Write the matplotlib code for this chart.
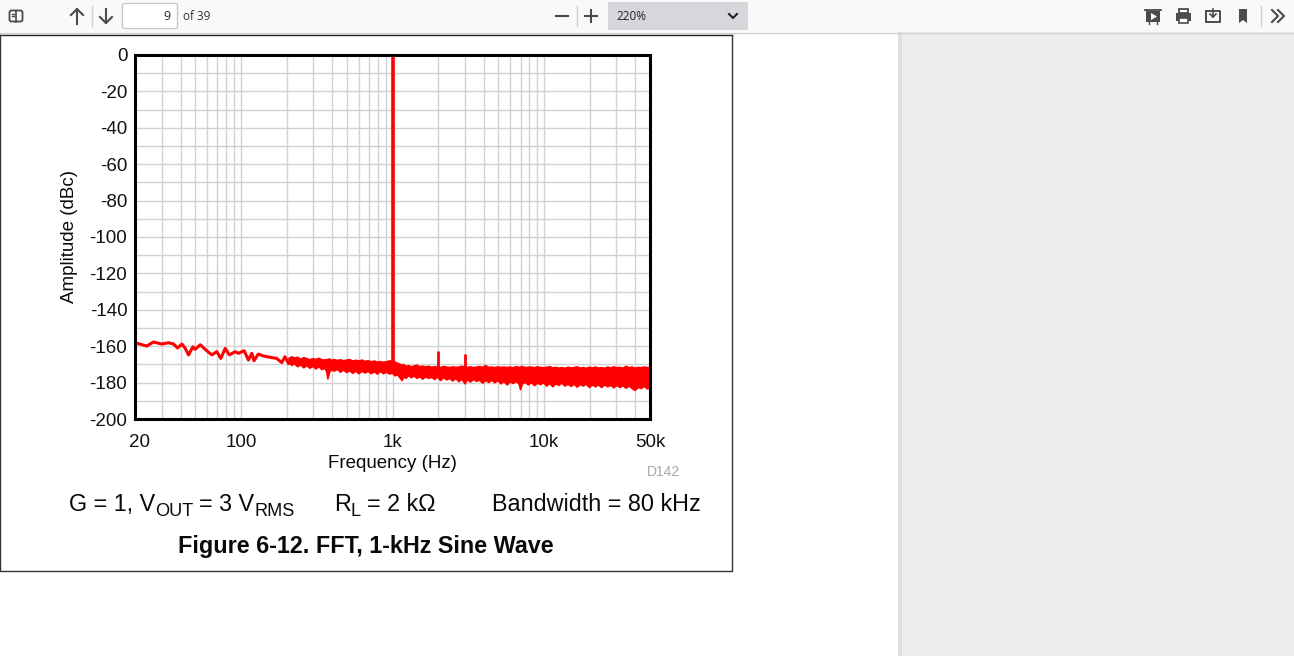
import matplotlib
matplotlib.use("Agg")
import matplotlib.pyplot as plt
from matplotlib.patches import Rectangle, FancyBboxPatch, Polygon
from matplotlib.transforms import ScaledTranslation

plt.rcParams['font.family'] = ['Liberation Sans', 'DejaVu Sans']

# Low-frequency single trace
trace_freq = [20, 20.6, 23.9, 26.5, 30, 33.3, 35.9, 38.2, 40.8, 42.9, 45.1, 48.2, 49.9, 53.9, 58, 64.3,
              69.3, 73.7, 78.7, 84, 91.6, 96.4, 105, 112, 118, 122, 130, 141, 156, 172, 186, 195, 206]
trace_db = [-158.3, -158.4, -159.9, -157.7, -158.8, -158.1, -158.8, -161, -158.8, -161.2, -164.8, -160.3,
            -161.7, -159.2, -161.7, -164.8, -163, -166.7, -161.2, -164.8, -163, -163.9, -162.5, -167.6,
            -163.9, -168, -164.3, -165.4, -166.1, -166.7, -169, -165.8, -169.4]

# Noise band: upper and lower envelope above 200 Hz
band_freq = [206, 215, 224, 235, 246, 258, 270, 283, 296, 310, 325, 340, 356, 366, 372, 380, 392, 410, 430,
             450, 472, 495, 518, 543, 569, 596, 625, 655, 686, 719, 753, 789, 827, 866, 907, 950, 985, 1000,
             1030, 1070, 1110, 1150, 1175, 1220, 1270, 1320, 1380, 1440, 1500, 1570, 1640, 1720, 1800, 1880,
             1970, 2060, 2160, 2260, 2370, 2480, 2600, 2720, 2850, 2990, 3100, 3250, 3400, 3560, 3730, 3910,
             4090, 4290, 4490, 4700, 4920, 5160, 5400, 5660, 5930, 6210, 6500, 6800, 6950, 7130, 7470, 7820,
             8190, 8580, 8990, 9410, 9860, 10330, 10820, 11330, 11870, 12430, 13020, 13640, 14290, 14970,
             15680, 16420, 17200, 18020, 18870, 19770, 20710, 21690, 22720, 23800, 24930, 26110, 27350,
             28650, 30010, 31440, 32930, 34490, 36130, 37850, 39600, 41500, 43400, 45500, 47700, 50000]
band_hi = [-166.4, -165.6, -166.2, -165.8, -167.0, -166.0, -166.6, -167.2, -166.6, -167.0, -166.4, -167.2, -167.4,
           -167.0, -167.2, -166.7, -167.5, -167.1, -167.6, -167.2, -167.8, -167.4, -167.1, -167.9, -167.5,
           -167.8, -167.4, -168.1, -167.7, -168.3, -167.9, -168.5, -168.2, -168.6, -168.3, -167.8, -168.0, -167.7,
           -168.4, -169.1, -169.6, -170.2, -169.8, -170.8, -170.4, -171.1, -170.6, -170.2, -171.0, -170.7, -171.1,
           -170.8, -171.3, -171.0, -171.1, -171.4, -170.9, -171.2, -171.5, -171.1, -171.4, -171.2, -170.8, -171.3,
           -171.4, -171.1, -171.5, -171.2, -171.0, -171.3, -170.4, -171.4, -171.2, -171.5, -171.1, -171.4, -171.2,
           -171.5, -171.2, -171.6, -171.0, -171.4, -171.2, -170.9, -171.5, -171.3, -171.2, -171.6, -171.1, -171.4,
           -171.6, -171.3, -171.0, -171.7, -171.4, -171.8, -171.5, -171.9, -171.3, -171.7, -171.5, -171.1, -171.8,
           -171.5, -171.9, -171.3, -171.7, -171.2, -171.8, -171.5, -171.9, -171.2, -171.7, -171.1, -171.6, -171.4,
           -171.8, -170.8, -171.5, -171.2, -171.8, -171.4, -171.6, -171.2, -171.5, -171.4]
band_lo = [-169.0, -170.2, -169.4, -171.0, -170.0, -171.6, -170.4, -171.8, -170.8, -172.2, -171.0, -172.6, -171.8,
           -174, -177.7, -174.4, -172.6, -173.4, -172.4, -174, -172.8, -174.2, -173.2, -174.6, -173.4,
           -174.8, -173.5, -174.4, -173.6, -174.8, -173.8, -175, -173.6, -174.8, -174, -175, -174.6, -174.8,
           -176, -175.4, -177, -178.6, -176.6, -177.4, -175.8, -177, -176.2, -177.4, -176.4, -177.8, -176.6,
           -177.4, -176.8, -178, -176.6, -178.6, -177, -178.2, -177.4, -178.8, -177.4, -179.2, -177.8, -180.4,
           -178, -179.4, -178, -179, -178.4, -180, -178.6, -179.6, -178.4, -179.8, -178.6, -180.4, -179, -181,
           -179.4, -180.2, -179, -180.6, -183.6, -180.4, -179.6, -181, -179.6, -181.4, -180, -180.8, -179.8,
           -181.6, -180.2, -182, -180.4, -181.2, -180, -181.6, -180.6, -181.8, -180.6, -182.2, -180.8, -181.6,
           -180.6, -182.4, -181, -182, -181, -182.4, -181, -182, -181.2, -182.6, -181.2, -182.4, -181.4, -182.8,
           -181.6, -183, -184, -182.4, -183, -181.8, -183.2, -182.4]

# Harmonic spikes
spike_freq = [1000, 2000, 3000]
spike_top = [0, -162.4, -164.3]
spike_base = [-174, -174, -174]

# Axis labels
y_ticks = [0, -20, -40, -60, -80, -100, -120, -140, -160, -180, -200]
y_minor = [-10, -30, -50, -70, -90, -110, -130, -150, -170, -190]
x_ticks = [20, 100, 1000, 10000, 50000]
x_labels = ['20', '100', '1k', '10k', '50k']
x_grid = [30, 40, 50, 60, 70, 80, 90, 100, 200, 300, 400, 500, 600, 700, 800, 900, 1000,
          2000, 3000, 4000, 5000, 6000, 7000, 8000, 9000, 10000, 20000, 30000, 40000]

W, H = 1294, 656
fig = plt.figure(figsize=(W / 100, H / 100), dpi=100, facecolor='white')

# Overlay in pixel coordinates for the viewer chrome
bg = fig.add_axes([0, 0, 1, 1], zorder=0)
bg.set_xlim(0, W)
bg.set_ylim(H, 0)
bg.axis('off')
bg.add_patch(Rectangle((898, 32), W - 898, H - 32, fc='#ecedef', ec='none'))
bg.add_patch(Rectangle((898, 32), 4, H - 32, fc='#dfdfe2', ec='none'))
bg.add_patch(Rectangle((0, 0), W, 32, fc='#f9f9fa', ec='none'))
bg.plot([0, W], [32.5, 32.5], color='#cfcfd2', lw=1)
bg.plot([0, 732], [34.5, 34.5], color='#222222', lw=1)
bg.plot([0.3, 0.3, 731.7, 731.7], [34.5, 571.3, 571.3, 34.5], color='#333333', lw=1)

ic = '#4a4a4f'
# sidebar icon
bg.add_patch(FancyBboxPatch((9.5, 10.5), 13, 11, boxstyle='round,pad=0,rounding_size=2', fc='none', ec=ic, lw=1.3))
bg.plot([16, 16], [10.5, 21.5], color=ic, lw=1.2)
bg.plot([11.5, 14], [13.5, 13.5], color=ic, lw=1)
bg.plot([11.5, 14], [16, 16], color=ic, lw=1)
# arrows
bg.plot([77, 77], [9, 24], color=ic, lw=1.5)
bg.plot([71, 77, 83], [15, 9, 15], color=ic, lw=1.5)
bg.plot([106, 106], [9, 23], color=ic, lw=1.5)
bg.plot([100, 106, 112], [17, 23, 17], color=ic, lw=1.5)
bg.plot([91.5, 91.5], [6, 26], color='#cfcfd2', lw=1)
bg.add_patch(FancyBboxPatch((122.5, 3.5), 55, 25, boxstyle='round,pad=0,rounding_size=2', fc='white', ec='#c8c8cb', lw=1))
bg.text(170, 16, '9', ha='right', va='center', fontsize=9, color='#222222', family=['Open Sans'])
bg.text(183, 16.5, 'of 39', ha='left', va='center', fontsize=8.5, color='#333333', family=['Open Sans'])
# zoom controls
bg.plot([556, 568], [16, 16], color=ic, lw=1.5)
bg.plot([577, 577], [6, 26], color='#cfcfd2', lw=1)
bg.plot([585, 597], [16, 16], color=ic, lw=1.5)
bg.plot([591, 591], [10, 22], color=ic, lw=1.5)
bg.add_patch(Rectangle((608, 2), 140, 28, fc='#d7d7db', ec='none'))
bg.text(616, 16, '220%', ha='left', va='center', fontsize=8.5, color='#222222', family=['Open Sans'])
bg.plot([729, 733, 737], [14, 18, 14], color='#222222', lw=1.5)
# right-hand icons
bg.add_patch(Rectangle((1146, 11), 14, 11, fc=ic, ec='none'))
bg.plot([1145, 1161], [9.5, 9.5], color=ic, lw=1.3)
bg.add_patch(Polygon([[1151, 13], [1151, 20], [1157, 16.5]], fc='white', ec='none'))
bg.plot([1149, 1149], [22, 24], color=ic, lw=1)
bg.plot([1157, 1157], [22, 24], color=ic, lw=1)
bg.add_patch(Rectangle((1176, 13), 15, 8, fc=ic, ec='none'))
bg.add_patch(Rectangle((1179, 9), 9, 4, fc='none', ec=ic, lw=1.3))
bg.add_patch(Rectangle((1179, 18), 9, 5, fc='white', ec=ic, lw=1.2))
bg.plot([1206, 1206, 1220, 1220, 1206], [11, 22, 22, 11, 11], color=ic, lw=1.4)
bg.plot([1213, 1213], [9, 17], color=ic, lw=1.2)
bg.plot([1210, 1213, 1216], [14, 17, 14], color=ic, lw=1.2)
bg.add_patch(Polygon([[1239, 9], [1247, 9], [1247, 23], [1243, 20], [1239, 23]], fc=ic, ec='none'))
bg.plot([1260.5, 1260.5], [6, 26], color='#cfcfd2', lw=1)
bg.plot([1272, 1278, 1272], [10, 16, 22], color=ic, lw=1.5)
bg.plot([1278, 1284, 1278], [10, 16, 22], color=ic, lw=1.5)

# Chart
L, R, T, B = 135, 650, 55, 419
ax = fig.add_axes([L / W, 1 - B / H, (R - L) / W, (B - T) / H], zorder=2)
ax.set_xscale('log')
ax.set_xlim(20, 50000)
ax.set_ylim(-200, 0)
for v in y_ticks + y_minor:
    ax.axhline(v, color='#d2d2d2', lw=1.0, zorder=1)
for v in x_grid:
    ax.axvline(v, color='#d2d2d2', lw=1.0, zorder=1)
red = '#ff0000'
ax.plot(trace_freq, trace_db, color=red, lw=2.2, zorder=3, solid_joinstyle='round')
ax.fill_between(band_freq, band_lo, band_hi, color=red, lw=1.2, zorder=3)
ax.vlines(spike_freq[0], spike_base[0], spike_top[0], color=red, lw=2.6, zorder=4)
ax.vlines(spike_freq[1:], spike_base[1:], spike_top[1:], color=red, lw=2.0, zorder=4)

ax.minorticks_off()
ax.set_xticks(x_ticks)
ax.set_xticklabels(x_labels, fontsize=13.5, color='#111111')
ax.set_yticks(y_ticks)
ax.set_yticklabels([str(v) for v in y_ticks], fontsize=13.5, color='#111111')
ax.tick_params(axis='both', which='both', length=0, pad=5.5)
ax.tick_params(axis='x', pad=11)
ax.xaxis.get_major_ticks()[0].label1.set_transform(
    ax.xaxis.get_major_ticks()[0].label1.get_transform() + ScaledTranslation(4 / 100, 0, fig.dpi_scale_trans))
for s in ax.spines.values():
    s.set_linewidth(2.2)
    s.set_color('black')
    s.set_zorder(6)

fg = fig.add_axes([0, 0, 1, 1], zorder=3)
fg.set_xlim(0, W)
fg.set_ylim(H, 0)
fg.axis('off')
fg.patch.set_alpha(0)
tc = '#0a0a0a'
fg.text(69, 236.5, 'Amplitude (dBc)', rotation=90, ha='center', va='center', fontsize=13.5, color=tc)
fg.text(392.5, 464, 'Frequency (Hz)', ha='center', va='center', fontsize=13.5, color=tc)
fg.text(663, 472, 'D142', ha='center', va='center', fontsize=10, color='#a8a8a8')
base, sub = 511, 516
main_fs, sub_fs = 16.8, 13.1
for x, s in [(69, 'G = 1, V'), (199, '= 3 V'), (334, 'R'), (367, '= 2 kΩ'), (492, 'Bandwidth = 80 kHz')]:
    fg.text(x, base, s, ha='left', va='baseline', fontsize=main_fs, color=tc)
for x, s in [(155, 'OUT'), (254, 'RMS'), (350, 'L')]:
    fg.text(x, sub, s, ha='left', va='baseline', fontsize=sub_fs, color=tc)
fg.text(366, 547, 'Figure 6-12. FFT, 1-kHz Sine Wave', ha='center', va='center', fontsize=16.85,
        fontweight='bold', color=tc)

fig.savefig('out.png', dpi=100, facecolor='white')
